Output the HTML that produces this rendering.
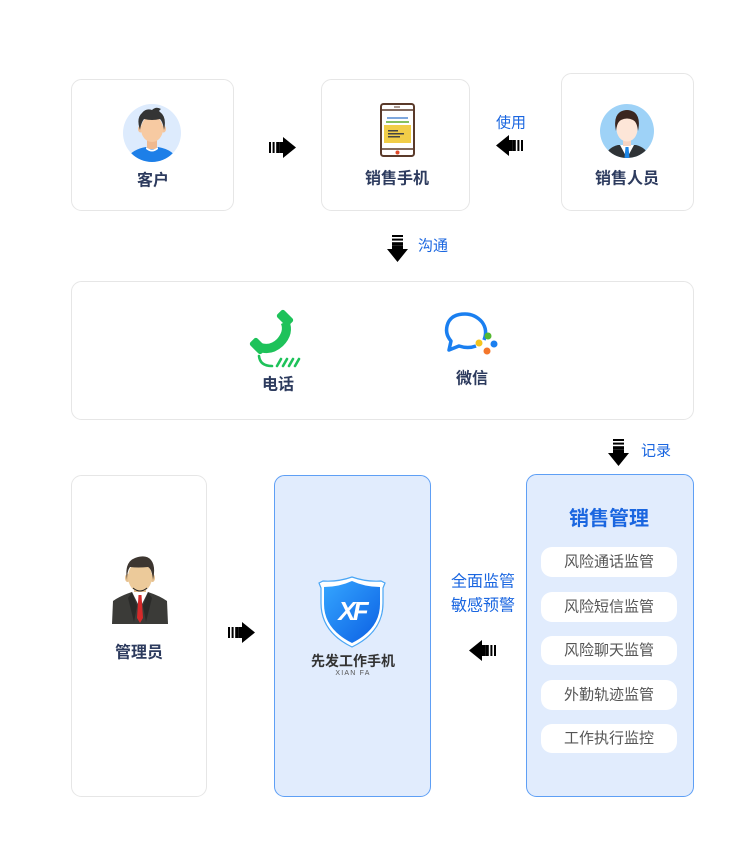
<!DOCTYPE html>
<html><head><meta charset="utf-8"><style>
html,body{margin:0;padding:0;background:#fff;}
svg{display:block;}
text{font-family:"Liberation Sans","Noto Sans CJK SC",sans-serif;}
</style></head><body>
<svg width="750" height="860" viewBox="0 0 750 860" xmlns="http://www.w3.org/2000/svg">
<defs>
  <g id="arr">
    <rect x="0" y="5" width="2" height="11" fill="#000"/>
    <rect x="3.6" y="5" width="2" height="11" fill="#000"/>
    <rect x="7.2" y="5" width="3" height="11" fill="#000"/>
    <polygon points="10.2,5 14,5 14,0 27,10.5 14,21 14,16 10.2,16" fill="#000"/>
  </g>
  <linearGradient id="sg" x1="0" y1="0" x2="1" y2="1">
    <stop offset="0" stop-color="#35a6ff"/>
    <stop offset="1" stop-color="#0b5fe3"/>
  </linearGradient>
  <clipPath id="c1"><circle cx="152" cy="133" r="29"/></clipPath>
  <clipPath id="c2"><circle cx="627" cy="131" r="27"/></clipPath>
</defs>

<!-- top boxes -->
<rect x="71.5" y="79.5" width="162" height="131" rx="10" fill="#fff" stroke="#e6e6e6"/>
<rect x="321.5" y="79.5" width="148" height="131" rx="10" fill="#fff" stroke="#e6e6e6"/>
<rect x="561.5" y="73.5" width="132" height="137" rx="10" fill="#fff" stroke="#e6e6e6"/>

<!-- customer avatar -->
<circle cx="152" cy="133" r="29" fill="#ddebfd"/>
<g clip-path="url(#c1)">
  <path d="M124,165 Q128,150 146,147 L158,147 Q176,150 180,165 Z" fill="#1d7fe8"/>
  <rect x="147" y="139" width="10" height="10" fill="#efb98f"/>
  <path d="M146,147 Q152,152 158,147 L158,149 Q152,154 146,149Z" fill="#fff"/>
</g>
<ellipse cx="140.5" cy="129" rx="2.5" ry="3.5" fill="#f3c49c"/>
<ellipse cx="163.5" cy="129" rx="2.5" ry="3.5" fill="#f3c49c"/>
<ellipse cx="152" cy="129" rx="11" ry="13" fill="#f7caa2"/>
<path d="M140,130 Q136,118 142,113 Q146,108 152,110 Q156,106 161,109 Q158,111 160,112 Q167,117 164,130 Q163,122 160,119 Q152,121 144,119 Q141,123 140,130Z" fill="#343434"/>
<text x="153" y="181" text-anchor="middle" dominant-baseline="central" font-size="16" font-weight="bold" fill="#2d3b5e">客户</text>

<!-- phone icon -->
<rect x="381" y="104" width="33" height="52" rx="2.5" fill="#fff" stroke="#5a3a2a" stroke-width="2"/>
<line x1="381" y1="110" x2="414" y2="110" stroke="#5a3a2a" stroke-width="1.5"/>
<line x1="381" y1="149" x2="414" y2="149" stroke="#5a3a2a" stroke-width="1.5"/>
<line x1="394" y1="107" x2="400" y2="107" stroke="#5a3a2a" stroke-width="1"/>
<rect x="387" y="117" width="21" height="2" fill="#7ea7dd"/>
<rect x="386" y="121" width="23" height="2" fill="#86c060"/>
<rect x="384" y="125" width="27" height="18" fill="#f1cd48"/>
<rect x="388" y="130" width="10" height="1.5" fill="#444"/>
<rect x="388" y="133" width="16" height="1.5" fill="#444"/>
<rect x="388" y="136" width="12" height="1.5" fill="#444"/>
<circle cx="397.5" cy="152.5" r="2" fill="#e04a2a"/>
<text x="397" y="179" text-anchor="middle" dominant-baseline="central" font-size="16" font-weight="bold" fill="#2d3b5e">销售手机</text>

<!-- sales person avatar -->
<circle cx="627" cy="131" r="27" fill="#9ed2f7"/>
<g clip-path="url(#c2)">
  <path d="M604,160 Q606,148 618,145 L636,145 Q648,148 650,160 Z" fill="#2f3336"/>
  <path d="M620,145 L634,145 L627,158 Z" fill="#fff"/>
  <path d="M625.5,147 L628.5,147 L629.5,158 L624.5,158 Z" fill="#1d86e6"/>
  <rect x="623" y="137" width="8" height="9" fill="#f6d4c2"/>
</g>
<ellipse cx="627" cy="129" rx="10.5" ry="12.5" fill="#fde6d8"/>
<path d="M616,131 Q613,117 620,112 Q627,108 634,112 Q641,117 638,131 Q637,122 633,120 Q627,117 621,120 Q617,122 616,131Z" fill="#3a2620"/>
<text x="627" y="179" text-anchor="middle" dominant-baseline="central" font-size="16" font-weight="bold" fill="#2d3b5e">销售人员</text>

<!-- arrows top -->
<use href="#arr" transform="translate(269,137)"/>
<use href="#arr" transform="translate(523,135) scale(-1,1)"/>
<text x="511" y="123" text-anchor="middle" dominant-baseline="central" font-size="15" fill="#1a66e0">使用</text>

<!-- 沟通 -->
<use href="#arr" transform="translate(408,235) rotate(90)"/>
<text x="433" y="246" text-anchor="middle" dominant-baseline="central" font-size="15" fill="#1a66e0">沟通</text>

<!-- middle box -->
<rect x="71.5" y="281.5" width="622" height="138" rx="10" fill="#fff" stroke="#e6e6e6"/>

<!-- green phone -->
<g fill="#1ec25a">
  <rect x="277" y="313" width="16" height="10" rx="2.5" transform="rotate(45 285 318)"/>
  <rect x="250" y="341" width="16" height="10" rx="2.5" transform="rotate(45 258 346)"/>
  <path d="M289,320 Q295,334 283,346 Q271,357 257,351 L261,343 Q270,346 277,339 Q284,331 281,324 Z"/>
</g>
<path d="M259,356 Q260,366 272,366" fill="none" stroke="#1ec25a" stroke-width="2.6" stroke-linecap="round"/>
<g stroke="#1ec25a" stroke-width="2.6" stroke-linecap="round">
  <line x1="277" y1="366" x2="281" y2="359"/>
  <line x1="283" y1="366" x2="287" y2="359"/>
  <line x1="289" y1="366" x2="293" y2="359"/>
  <line x1="295" y1="366" x2="299" y2="359"/>
</g>
<text x="278" y="385" text-anchor="middle" dominant-baseline="central" font-size="16" font-weight="bold" fill="#2d3b5e">电话</text>

<!-- wechat work -->
<path d="M484,340 Q488,330 482,322 Q475,314 465,314 Q452,314 448,323 Q444,333 451,341 L449,350 L459,346 Q468,349 476,346" fill="none" stroke="#1a7ff0" stroke-width="3.5" stroke-linejoin="round"/>
<circle cx="488" cy="336" r="3.5" fill="#54b830"/>
<circle cx="494" cy="344" r="3.5" fill="#1a7ff0"/>
<circle cx="487" cy="351" r="3.5" fill="#f4762a"/>
<circle cx="479" cy="343" r="3.5" fill="#f5c51c"/>
<text x="472" y="379" text-anchor="middle" dominant-baseline="central" font-size="16" font-weight="bold" fill="#2d3b5e">微信</text>

<!-- 记录 -->
<use href="#arr" transform="translate(629,439) rotate(90)"/>
<text x="656" y="451" text-anchor="middle" dominant-baseline="central" font-size="15" fill="#1a66e0">记录</text>

<!-- bottom boxes -->
<rect x="71.5" y="475.5" width="135" height="321" rx="10" fill="#fff" stroke="#e6e6e6"/>
<rect x="274.5" y="475.5" width="156" height="321" rx="10" fill="#e1ecfd" stroke="#5e9ff5"/>
<rect x="526.5" y="474.5" width="167" height="322" rx="10" fill="#e1ecfd" stroke="#5e9ff5"/>

<!-- manager -->
<path d="M112,624 L113,601 Q120,596 132,592 L148,592 Q160,596 167,601 L168,624 Z" fill="#3b3b38"/>
<path d="M132,592 L148,592 L140,608 Z" fill="#fff"/>
<path d="M138.5,595 L141.5,595 L143,618 L140,623 L137,618 Z" fill="#d42a2a"/>
<path d="M132,592 L137,606 L134,622 L128,598Z" fill="#2a2a28"/>
<path d="M148,592 L143,606 L146,622 L152,598Z" fill="#2a2a28"/>
<rect x="134" y="582" width="12" height="10" fill="#e2bd8e"/>
<ellipse cx="127.5" cy="578" rx="2.5" ry="4" fill="#e6c190"/>
<ellipse cx="152.5" cy="578" rx="2.5" ry="4" fill="#e6c190"/>
<ellipse cx="140" cy="577" rx="12" ry="15" fill="#ecca9a"/>
<path d="M133,588 Q140,594 147,588" fill="none" stroke="#222" stroke-width="1"/>
<path d="M127,580 Q124,562 135,558 Q146,554 151,560 Q156,566 153,580 Q152,569 148,567 Q138,568 130,567 Q127,571 127,580Z" fill="#3d3630"/>
<text x="139" y="653" text-anchor="middle" dominant-baseline="central" font-size="16" font-weight="bold" fill="#2d3b5e">管理员</text>

<use href="#arr" transform="translate(228,622)"/>

<!-- shield -->
<path d="M319,583 L323,581 Q338,582 352,577 Q366,582 381,581 L385,583 L383,588 L383,603 Q383,632 352,647 Q321,632 321,603 L321,588 Z" fill="#fff" stroke="#4aa6f5" stroke-width="1.2"/>
<path d="M324,587 Q339,587 352,581 Q365,587 380,587 L380,604 Q380,629 352,643 Q324,629 324,604 Z" fill="url(#sg)"/>
<text x="352" y="620" text-anchor="middle" font-size="26" font-weight="bold" font-style="italic" fill="#fff" letter-spacing="-3">XF</text>
<text x="353" y="661" text-anchor="middle" dominant-baseline="central" font-size="14" font-weight="bold" fill="#333">先发工作手机</text>
<text x="353" y="673.5" text-anchor="middle" dominant-baseline="central" font-size="7" fill="#555" letter-spacing="1.2">XIAN FA</text>

<!-- 全面监管 -->
<text x="483" y="582" text-anchor="middle" dominant-baseline="central" font-size="16" fill="#1a66e0">全面监管</text>
<text x="483" y="606" text-anchor="middle" dominant-baseline="central" font-size="16" fill="#1a66e0">敏感预警</text>
<use href="#arr" transform="translate(496,640) scale(-1,1)"/>

<!-- sales management -->
<text x="609" y="519" text-anchor="middle" dominant-baseline="central" font-size="20" font-weight="bold" fill="#1a66e0">销售管理</text>
<g fill="#fff">
  <rect x="541" y="547" width="136" height="30" rx="11"/>
  <rect x="541" y="592" width="136" height="30" rx="11"/>
  <rect x="541" y="636" width="136" height="29" rx="11"/>
  <rect x="541" y="680" width="136" height="30" rx="11"/>
  <rect x="541" y="724" width="136" height="29" rx="11"/>
</g>
<g font-size="15" fill="#555" text-anchor="middle" dominant-baseline="central">
  <text x="609" y="562">风险通话监管</text>
  <text x="609" y="607">风险短信监管</text>
  <text x="609" y="650.5">风险聊天监管</text>
  <text x="609" y="695">外勤轨迹监管</text>
  <text x="609" y="738.5">工作执行监控</text>
</g>
</svg>
</body></html>
